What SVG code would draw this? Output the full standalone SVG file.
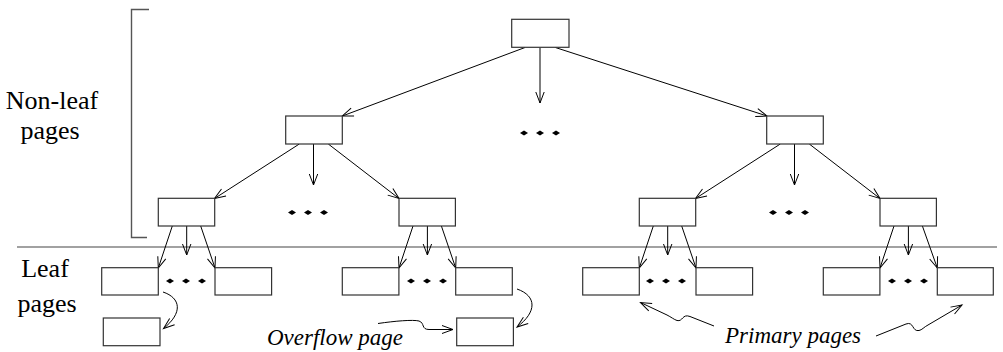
<svg xmlns="http://www.w3.org/2000/svg" xmlns:xlink="http://www.w3.org/1999/xlink" width="1003" height="352" viewBox="0 0 1003 352">
<style>
.box{fill:#fff;stroke:#333;stroke-width:1.2}
.edge{fill:none;stroke:#000;stroke-width:1;marker-end:url(#ah)}
.curve{fill:none;stroke:#000;stroke-width:1;marker-end:url(#ah2)}
.lbl{font-family:'Liberation Serif','Times New Roman','DejaVu Serif',serif;font-size:26px;fill:#000;text-anchor:middle}
.note{font-family:'Liberation Serif','Times New Roman','DejaVu Serif',serif;font-size:23px;font-style:italic;fill:#000}
.rule{fill:none;stroke:#555;stroke-width:1.4}
</style>
<defs>
<marker id="ah" markerUnits="userSpaceOnUse" markerWidth="14" markerHeight="12" refX="11" refY="5" orient="auto" overflow="visible">
<path d="M0,0.8 L11,5 L0,9.2" fill="none" stroke="#000" stroke-width="1"/>
</marker>
<marker id="ah2" markerUnits="userSpaceOnUse" markerWidth="14" markerHeight="12" refX="11" refY="5" orient="auto" overflow="visible">
<path d="M0,1 L11,5 L0,9" fill="none" stroke="#000" stroke-width="1"/>
</marker>
<path id="dot" d="M-4,0 L0,-2.5 L4,0 L0,2.5 Z" fill="#000"/>
</defs>
<rect width="1003" height="352" fill="#fff"/>

<g id="labels">
<text class="lbl" x="52" y="109" font-family="Liberation Serif, serif">Non-leaf</text>
<text class="lbl" x="50" y="139" font-family="Liberation Serif, serif">pages</text>
<text class="lbl" x="45" y="277" font-family="Liberation Serif, serif">Leaf</text>
<text class="lbl" x="47" y="312" font-family="Liberation Serif, serif">pages</text>
<text class="note" x="267" y="345" font-family="Liberation Serif, serif">Overflow page</text>
<text class="note" x="725" y="343" font-family="Liberation Serif, serif">Primary pages</text>
</g>

<g id="rules">
<path class="rule" d="M149,9.5 H131.5 V237.5 H147"/>
<path d="M17,247 H997" fill="none" stroke="#444" stroke-width="1.2"/>
</g>

<g id="connectors">
<path class="edge" d="M540,47.5 L540,103"/>
<path class="edge" d="M525,47.5 L342.3,116"/>
<path class="edge" d="M555.4,47.5 L767,116"/>
<path class="edge" d="M299.3,144 L214.5,198.5"/>
<path class="edge" d="M313.5,144 L313.5,185"/>
<path class="edge" d="M328.3,144 L399,198.5"/>
<path class="edge" d="M780.3,144 L695.5,198.5"/>
<path class="edge" d="M794.5,144 L794.5,185"/>
<path class="edge" d="M809.3,144 L880,198.5"/>
<path class="edge" d="M172.3,226 L158.3,268"/>
<path class="edge" d="M186.7,226 L186.7,255"/>
<path class="edge" d="M200.7,226 L215,268"/>
<path class="edge" d="M413,226 L399,268"/>
<path class="edge" d="M427.4,226 L427.4,255"/>
<path class="edge" d="M441.4,226 L455.7,268"/>
<path class="edge" d="M653.3,226 L639.3,268"/>
<path class="edge" d="M667.7,226 L667.7,255"/>
<path class="edge" d="M681.7,226 L696,268"/>
<path class="edge" d="M894,226 L880,268"/>
<path class="edge" d="M908.4,226 L908.4,255"/>
<path class="edge" d="M922.4,226 L937.3,268"/>
<path class="curve" d="M163,292 C181,298 183,313 163.5,328.5"/>
<path class="curve" d="M517,289 C537,296 537,312 517,327"/>
<path class="curve" d="M378,323.5 C395,321 413,319.5 419,321 C425,323 421,329.5 429,329.5 L453,329.5"/>
<path class="curve" d="M714,326 L690,316.5 C682,313.5 683,322 677,320.5 C674,319.5 671,317 667,315 L640.5,302.5"/>
<path class="curve" d="M876,336 L906,324 C914,321 912,332 919,330.5 C922,330 924,327 928,325 L962,305"/>
</g>

<g id="dots">
<use xlink:href="#dot" x="524" y="133"/><use xlink:href="#dot" x="540" y="133"/><use xlink:href="#dot" x="556" y="133"/>
<use xlink:href="#dot" x="292" y="212.5"/><use xlink:href="#dot" x="308" y="212.5"/><use xlink:href="#dot" x="324" y="212.5"/>
<use xlink:href="#dot" x="773" y="212.5"/><use xlink:href="#dot" x="789" y="212.5"/><use xlink:href="#dot" x="805" y="212.5"/>
<use xlink:href="#dot" x="170" y="281"/><use xlink:href="#dot" x="186" y="281"/><use xlink:href="#dot" x="202" y="281"/>
<use xlink:href="#dot" x="411" y="281"/><use xlink:href="#dot" x="427" y="281"/><use xlink:href="#dot" x="443" y="281"/>
<use xlink:href="#dot" x="650" y="281"/><use xlink:href="#dot" x="666" y="281"/><use xlink:href="#dot" x="682" y="281"/>
<use xlink:href="#dot" x="892" y="281"/><use xlink:href="#dot" x="908" y="281"/><use xlink:href="#dot" x="924" y="281"/>
</g>

<g id="root"><rect class="box" x="511.7" y="19.3" width="57.3" height="28"/></g>
<g id="n1a"><rect class="box" x="285.7" y="116" width="56.6" height="28"/></g>
<g id="n1b"><rect class="box" x="766.7" y="116" width="56.6" height="28"/></g>
<g id="n2a"><rect class="box" x="158.3" y="198.3" width="56.4" height="27.7"/></g>
<g id="n2b"><rect class="box" x="399" y="198.3" width="56.4" height="27.7"/></g>
<g id="n2c"><rect class="box" x="639.3" y="198.3" width="56.4" height="27.7"/></g>
<g id="n2d"><rect class="box" x="880" y="198.3" width="56.4" height="27.7"/></g>
<g id="leaf1"><rect class="box" x="101.7" y="267.7" width="56.6" height="27.3"/></g>
<g id="leaf2"><rect class="box" x="215" y="267.7" width="56.6" height="27.3"/></g>
<g id="leaf3"><rect class="box" x="342.3" y="267.7" width="56.6" height="27.3"/></g>
<g id="leaf4"><rect class="box" x="455.7" y="267.7" width="56.6" height="27.3"/></g>
<g id="leaf5"><rect class="box" x="582.7" y="267.7" width="56.6" height="27.3"/></g>
<g id="leaf6"><rect class="box" x="696" y="267.7" width="56.6" height="27.3"/></g>
<g id="leaf7"><rect class="box" x="823.3" y="267.7" width="56.6" height="27.3"/></g>
<g id="leaf8"><rect class="box" x="937.3" y="267.7" width="56" height="27.3"/></g>
<g id="ovf1"><rect class="box" x="103.3" y="318" width="56.7" height="27.7"/></g>
<g id="ovf2"><rect class="box" x="456.7" y="318" width="56.7" height="27.7"/></g>
</svg>
